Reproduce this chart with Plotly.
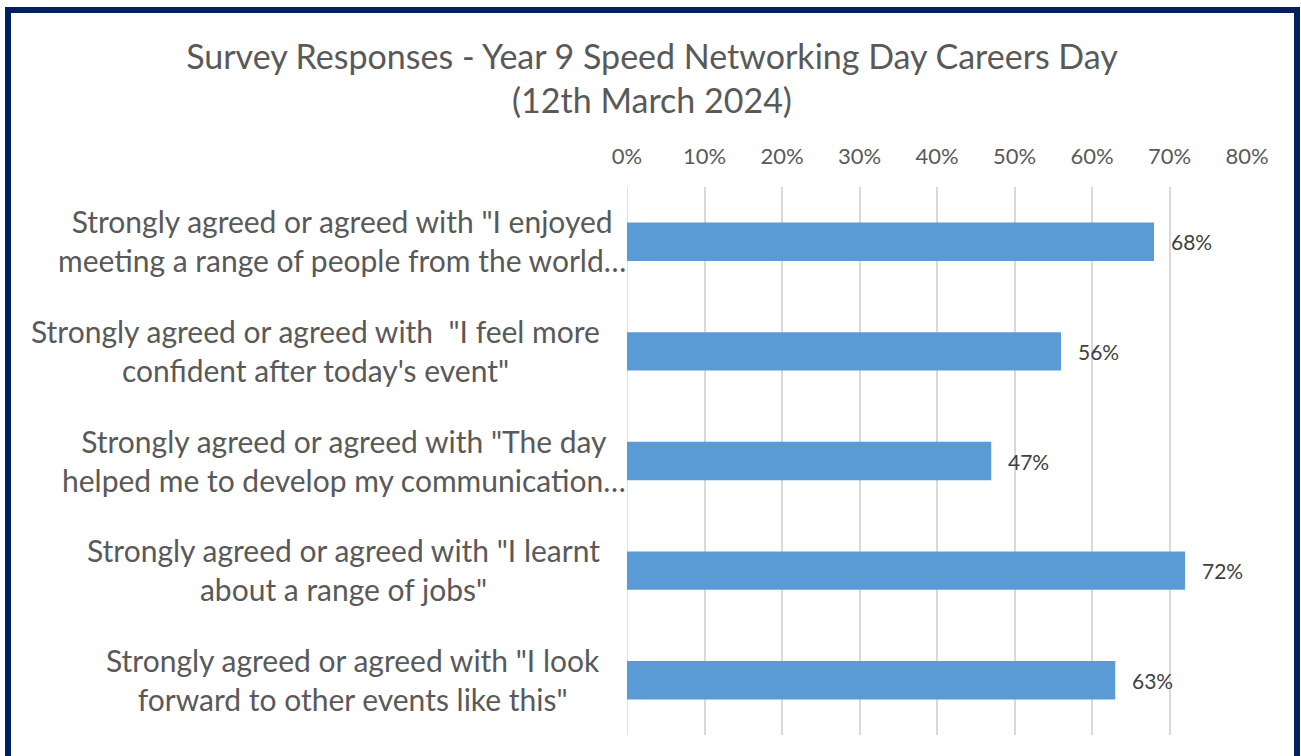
import plotly.graph_objects as go

categories = [
    'Strongly agreed or agreed with "I enjoyed<br>meeting a range of people from the world…',
    'Strongly agreed or agreed with  "I feel more<br>confident after today\'s event"',
    'Strongly agreed or agreed with "The day<br>helped me to develop my communication…',
    'Strongly agreed or agreed with "I learnt<br>about a range of jobs"',
    'Strongly agreed or agreed with "I look<br>forward to other events like this"',
]
values = [0.68, 0.56, 0.47, 0.72, 0.63]
value_labels = ["68%", "56%", "47%", "72%", "63%"]
tick_vals = [0, 0.1, 0.2, 0.3, 0.4, 0.5, 0.6, 0.7, 0.8]
tick_text = ["0%", "10%", "20%", "30%", "40%", "50%", "60%", "70%", "80%"]

FONT = "Lato"
W, H = 1301, 756
ML, MR, MT, MB = 627, 54, 187, 21
pw = W - ML - MR
ph = H - MT - MB

fig = go.Figure()
fig.add_trace(go.Bar(
    x=values, y=categories, orientation="h",
    marker=dict(color="#5B9BD5", line=dict(width=0)),
    width=0.35, hoverinfo="skip",
))

annotations = []
for c in categories:
    truncated = c.endswith("…")
    annotations.append(dict(
        x=0, xref="paper", xanchor="right", xshift=(1 if truncated else -25),
        y=c, yref="y", yanchor="middle", yshift=1,
        text=c, showarrow=False, align="center",
        font=dict(family=FONT, size=30, color="#595959"),
    ))
for v, t, c in zip(values, value_labels, categories):
    annotations.append(dict(
        x=v, xref="x", xanchor="left", xshift=15,
        y=c, yref="y", yanchor="middle",
        text=t, showarrow=False,
        font=dict(family=FONT, size=21, color="#404040"),
    ))

def px_to_paper_x(px):
    return (px - ML) / pw

def px_to_paper_y(py):
    return (H - MB - py) / ph

fig.update_layout(
    width=W, height=H,
    margin=dict(l=ML, r=MR, t=MT, b=MB, autoexpand=False),
    paper_bgcolor="white", plot_bgcolor="white",
    title=dict(
        text="Survey Responses - Year 9 Speed Networking Day Careers Day<br>(12th March 2024)",
        x=652 / W, xanchor="center", y=1 - 69 / H, yanchor="middle",
        font=dict(family=FONT, size=34, color="#595959"),
    ),
    xaxis=dict(
        side="top", range=[0, 0.8], tickvals=tick_vals, ticktext=tick_text,
        showgrid=True, gridcolor="#D9D9D9", gridwidth=1.5,
        zeroline=False, showline=False,
        ticks="outside", ticklen=13, tickcolor="rgba(0,0,0,0)",
        tickfont=dict(family=FONT, size=22, color="#595959"),
        fixedrange=True,
    ),
    yaxis=dict(
        categoryorder="array", categoryarray=categories[::-1],
        showticklabels=False, showgrid=False, zeroline=False,
        showline=False, fixedrange=True,
    ),
    showlegend=False,
    annotations=annotations,
    shapes=[dict(
        type="rect", xref="paper", yref="paper",
        x0=px_to_paper_x(8), x1=px_to_paper_x(1297),
        y0=px_to_paper_y(800), y1=px_to_paper_y(10),
        line=dict(color="#002060", width=6), fillcolor="rgba(0,0,0,0)",
        layer="above",
    ), dict(
        type="line", xref="x", yref="paper", x0=0, x1=0, y0=0, y1=1,
        line=dict(color="#D9D9D9", width=1.5), layer="below",
    )],
)

fig.write_html(
    "out.html",
    config={"displayModeBar": False},
    post_script="document.body.style.margin='0';document.body.style.overflow='hidden';",
)
